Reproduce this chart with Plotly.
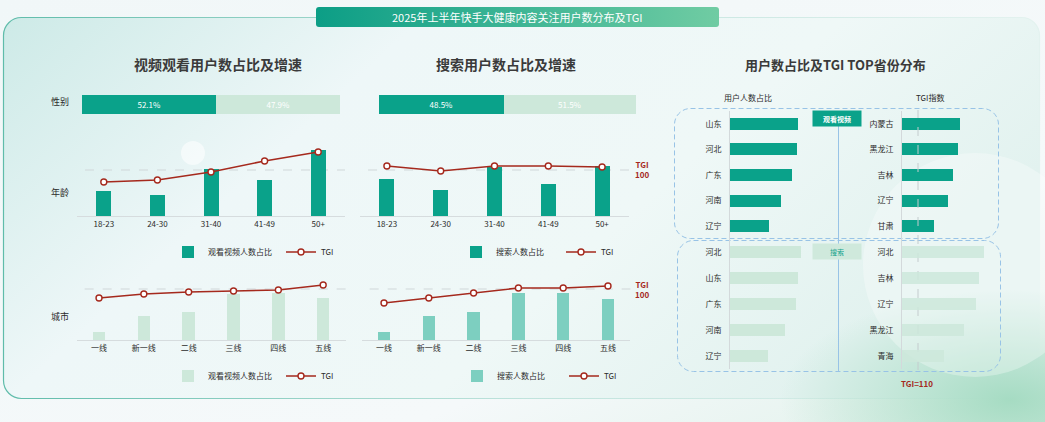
import base64
import plotly.graph_objects as go

W, H = 1045, 422
FONT = "Noto Sans CJK SC, Noto Sans, sans-serif"

# ---------------- data ----------------
video_gender = [52.1, 47.9]
search_gender = [48.5, 51.5]

age_groups = ["18-23", "24-30", "31-40", "41-49", "50+"]
video_age_share = [12.8, 10.8, 24.1, 18.5, 33.8]
video_age_tgi = [88, 90, 98, 109, 118]
search_age_share = [19.1, 13.4, 25.3, 16.5, 25.8]
search_age_tgi = [104, 99, 104, 104, 103]

city_tiers = ["一线", "新一线", "二线", "三线", "四线", "五线"]
video_city_share = [4.1, 12.3, 14.4, 23.6, 24.1, 21.5]
video_city_tgi = [91, 95, 97, 98, 99, 104]
search_city_share = [4.1, 12.3, 14.4, 24.1, 24.1, 21.0]
search_city_tgi = [86, 91, 96, 101, 101, 103]

video_share_prov = ["山东", "河北", "广东", "河南", "辽宁"]
video_share_top = [8.5, 8.4, 7.8, 6.4, 4.9]
video_tgi_prov = ["内蒙古", "黑龙江", "吉林", "辽宁", "甘肃"]
video_tgi_top = [136, 135, 132, 129, 120]
search_share_prov = ["河北", "山东", "广东", "河南", "辽宁"]
search_share_top = [8.9, 8.5, 8.3, 6.9, 4.8]
search_tgi_prov = ["河北", "吉林", "辽宁", "黑龙江", "青海"]
search_tgi_top = [151, 148, 146, 139, 126]

TGI_REF = 100
TGI_PROV_REF = 110

# ---------------- colours ----------------
DARK = "#0aa28a"
LIGHT = "#cde8da"
MID = "#7dcfc0"
RED = "#a5291d"
TXT = "#2b2b2b"


def dx(a, b):
    return [a / W, b / W]


def dy(top, bottom):
    return [1 - bottom / H, 1 - top / H]


def px(x):
    return x / W


def py(y):
    return 1 - y / H


fig = go.Figure()

# ---- gender bars ----
for xa, ya, vals in (("x", "y", video_gender), ("x4", "y6", search_gender)):
    for v, c in zip(vals, [DARK, LIGHT]):
        fig.add_trace(go.Bar(
            x=[v], y=[0], orientation="h", xaxis=xa, yaxis=ya, width=1,
            marker=dict(color=c, line=dict(width=0)), showlegend=False,
            texttemplate="%{x:.1f}%", textposition="inside", insidetextanchor="middle",
            textfont=dict(color="white", size=8, family=FONT), hoverinfo="skip"))


def combo(xa, ya, ya2, cats, share, tgi, color, name, legend):
    fig.add_trace(go.Bar(
        x=cats, y=share, xaxis=xa, yaxis=ya, name=name, width=0.28,
        marker=dict(color=color, line=dict(width=0)), legend=legend))
    fig.add_trace(go.Scatter(
        x=cats, y=tgi, xaxis=xa, yaxis=ya2, name="TGI", mode="lines+markers",
        line=dict(color=RED, width=1.6),
        marker=dict(symbol="circle", size=6, color="white", line=dict(color=RED, width=1.4)),
        legend=legend))


combo("x2", "y2", "y3", age_groups, video_age_share, video_age_tgi, DARK, "观看视频人数占比", "legend")
combo("x3", "y4", "y5", city_tiers, video_city_share, video_city_tgi, LIGHT, "观看视频人数占比", "legend2")
combo("x5", "y7", "y8", age_groups, search_age_share, search_age_tgi, DARK, "搜索人数占比", "legend3")
combo("x6", "y9", "y10", city_tiers, search_city_share, search_city_tgi, MID, "搜索人数占比", "legend4")

# ---- province bars ----
for xa, ya, provs, vals, c in (
        ("x7", "y11", video_share_prov, video_share_top, DARK),
        ("x8", "y12", video_tgi_prov, video_tgi_top, DARK),
        ("x9", "y13", search_share_prov, search_share_top, LIGHT),
        ("x10", "y14", search_tgi_prov, search_tgi_top, "rgba(205,232,218,0.85)")):
    fig.add_trace(go.Bar(
        x=vals, y=provs, orientation="h", xaxis=xa, yaxis=ya, width=0.47,
        marker=dict(color=c, line=dict(width=0)), showlegend=False))

# ---- TGI = 110 reference line (data-positioned on the TGI axis) ----
fig.add_trace(go.Scatter(
    x=[TGI_PROV_REF, TGI_PROV_REF], y=[0, 1], xaxis="x8", yaxis="y15", mode="lines",
    line=dict(color="#c4ccce", width=1, dash="dash"), showlegend=False, hoverinfo="skip"))

# ---------------- axes ----------------
hidden = dict(visible=False, showgrid=False, zeroline=False, fixedrange=True)
cat_x = dict(type="category", showgrid=False, zeroline=False, showline=True,
             linecolor="#d6dcde", linewidth=1, ticks="",
             tickfont=dict(size=8, color=TXT, family=FONT), fixedrange=True)
prov_y = dict(type="category", showgrid=False, zeroline=False, showline=True,
              linecolor="#d3d9db", linewidth=1, ticks="outside", ticklen=6,
              tickcolor="rgba(0,0,0,0)", tickfont=dict(size=8, color=TXT, family=FONT),
              fixedrange=True, range=[4.5, -0.5])

layout = dict(
    width=W, height=H, autosize=False,
    margin=dict(l=0, r=0, t=0, b=0, pad=0),
    paper_bgcolor="rgba(0,0,0,0)", plot_bgcolor="rgba(0,0,0,0)",
    barmode="stack", font=dict(family=FONT, color=TXT),
    hovermode=False,
    # gender video
    xaxis=dict(hidden, domain=dx(82, 340), range=[0, 100], anchor="y"),
    yaxis=dict(hidden, domain=dy(95, 114), range=[-0.5, 0.5], anchor="x"),
    # age video
    xaxis2=dict(cat_x, domain=dx(77, 345), range=[-0.5, 4.5], anchor="y2"),
    yaxis2=dict(hidden, domain=dy(138, 216), range=[0, 40], anchor="x2"),
    yaxis3=dict(hidden, overlaying="y2", range=[54, 132], anchor="x2"),
    # city video
    xaxis3=dict(cat_x, domain=dx(76.6, 345.6), range=[-0.5, 5.5], anchor="y4"),
    yaxis4=dict(hidden, domain=dy(262, 340), range=[0, 40], anchor="x3"),
    yaxis5=dict(hidden, overlaying="y4", range=[49, 127], anchor="x3"),
    # gender search
    xaxis4=dict(hidden, domain=dx(379, 636), range=[0, 100], anchor="y6"),
    yaxis6=dict(hidden, domain=dy(95, 114), range=[-0.5, 0.5], anchor="x4"),
    # age search
    xaxis5=dict(cat_x, domain=dx(360, 629), range=[-0.5, 4.5], anchor="y7"),
    yaxis7=dict(hidden, domain=dy(138, 216), range=[0, 40], anchor="x5"),
    yaxis8=dict(hidden, overlaying="y7", range=[54, 132], anchor="x5"),
    # city search
    xaxis6=dict(cat_x, domain=dx(361.6, 630.4), range=[-0.5, 5.5], anchor="y9"),
    yaxis9=dict(hidden, domain=dy(262, 340), range=[0, 40], anchor="x6"),
    yaxis10=dict(hidden, overlaying="y9", range=[49, 127], anchor="x6"),
    # provinces
    xaxis7=dict(hidden, domain=dx(730, 834), range=[0, 13], anchor="y11"),
    yaxis11=dict(prov_y, domain=dy(111, 239), anchor="x7"),
    xaxis8=dict(hidden, domain=dx(902, 1000), range=[100, 161.25], anchor="y12"),
    yaxis12=dict(prov_y, domain=dy(111, 239), anchor="x8"),
    xaxis9=dict(hidden, domain=dx(730, 834), range=[0, 13], anchor="y13"),
    yaxis13=dict(prov_y, domain=dy(239, 369), anchor="x9"),
    xaxis10=dict(hidden, domain=dx(902, 1000), range=[100, 161.25], anchor="y14"),
    yaxis14=dict(prov_y, domain=dy(239, 369), anchor="x10"),
    yaxis15=dict(hidden, domain=dy(110, 370), range=[0, 1], anchor="x8"),
)


def leg(x, y, ew):
    return dict(orientation="h", x=px(x), y=py(y), xanchor="left", yanchor="middle",
                font=dict(size=8, color=TXT, family=FONT), bgcolor="rgba(0,0,0,0)",
                entrywidth=ew, entrywidthmode="pixels", borderwidth=0,
                traceorder="normal")


layout["legend"] = leg(168, 252, 68)
layout["legend2"] = leg(168, 376, 68)
layout["legend3"] = leg(456, 252, 60)
layout["legend4"] = leg(457, 376, 62)

fig.update_layout(**layout)

# ---------------- reference lines ----------------
shapes = []
for xr, yr in (("x2", "y3"), ("x3", "y5"), ("x5", "y8"), ("x6", "y10")):
    shapes.append(dict(type="line", xref=xr + " domain", yref=yr, x0=0.03, x1=1,
                       y0=TGI_REF, y1=TGI_REF, line=dict(color="#d0d7d9", width=1, dash="dash"),
                       layer="below"))
fig.update_layout(shapes=shapes)

# ---------------- texts ----------------
ann = []


def text(x, y, s, size=9, color=TXT, **kw):
    d = dict(xref="paper", yref="paper", x=px(x), y=py(y), text=s, showarrow=False,
             xanchor="center", yanchor="middle", font=dict(size=size, color=color, family=FONT))
    d.update(kw)
    ann.append(d)


text(517, 17, "2025年上半年快手大健康内容关注用户数分布及TGI", 11, "white")
text(218, 64, "<b>视频观看用户数占比及增速</b>", 14, "#3a3a3a")
text(506, 64, "<b>搜索用户数占比及增速</b>", 14, "#3a3a3a")
text(835, 64, "<b>用户数占比及TGI TOP省份分布</b>", 13, "#3a3a3a")
text(60, 102, "性别", 9)
text(60, 192, "年龄", 9)
text(60, 316, "城市", 9)
text(642, 169, "<b>TGI<br>100</b>", 8, RED)
text(642, 289, "<b>TGI<br>100</b>", 8, RED)
text(748, 97, "用户人数占比", 8)
text(930, 97, "TGI指数", 8)
text(837, 118.5, "<b>观看视频</b>", 7, "white", bgcolor=DARK, width=46, height=13)
text(837, 251.5, "搜索", 7, "#14a38b", bgcolor="#cfe9dc", width=46, height=13)
text(917, 383, "<b>TGI=110</b>", 8, RED)
fig.update_layout(annotations=ann)

# ---------------- background ----------------
svg = f"""<svg xmlns='http://www.w3.org/2000/svg' width='{W}' height='{H}' viewBox='0 0 {W} {H}'>
<defs>
<linearGradient id='bg' x1='0' y1='0' x2='1' y2='1'>
<stop offset='0' stop-color='#f1f7f8'/><stop offset='0.7' stop-color='#f5f9fa'/><stop offset='1' stop-color='#e0f1ea'/>
</linearGradient>
<linearGradient id='pn' x1='0' y1='0' x2='1' y2='0.4'>
<stop offset='0' stop-color='#cdeae7'/><stop offset='0.35' stop-color='#eef7f8'/><stop offset='0.7' stop-color='#eff8f7'/><stop offset='1' stop-color='#e2f2ef'/>
</linearGradient>
<linearGradient id='bd' x1='0' y1='0' x2='1' y2='0'>
<stop offset='0' stop-color='#5fbcaa'/><stop offset='0.5' stop-color='#bfe3dc'/><stop offset='1' stop-color='#e3f2ef'/>
</linearGradient>
<linearGradient id='bn' x1='0' y1='0' x2='1' y2='0'>
<stop offset='0' stop-color='#0c9e86'/><stop offset='1' stop-color='#70cca3'/>
</linearGradient>
<radialGradient id='gl' cx='0.5' cy='0.5' r='0.5'>
<stop offset='0' stop-color='#9fd9be' stop-opacity='0.9'/><stop offset='1' stop-color='#9fd9be' stop-opacity='0'/>
</radialGradient>
</defs>
<rect width='{W}' height='{H}' fill='url(#bg)'/>
<rect x='3.5' y='17.5' width='1036' height='381' rx='18' fill='url(#pn)' stroke='url(#bd)' stroke-width='1.2'/>
<ellipse cx='1010' cy='400' rx='230' ry='110' fill='url(#gl)'/>
<circle cx='975' cy='265' r='112' fill='#ffffff' fill-opacity='0.3'/>
<circle cx='193' cy='153' r='12' fill='#ffffff' fill-opacity='0.55'/>
<rect x='316' y='7' width='403' height='20' rx='3' fill='url(#bn)'/>
<g fill='none' stroke='#98c3e6' stroke-width='1' stroke-dasharray='5,3'>
<rect x='674.5' y='108.5' width='324' height='130' rx='16'/>
<rect x='677.5' y='240.5' width='323' height='131' rx='16'/>
</g>
<line x1='838.5' y1='126' x2='838.5' y2='372' stroke='#98c3e6' stroke-width='1'/>
</svg>"""
src = "data:image/svg+xml;base64," + base64.b64encode(svg.encode("utf-8")).decode("ascii")
fig.update_layout(images=[dict(source=src, xref="paper", yref="paper", x=0, y=1, sizex=1, sizey=1,
                               xanchor="left", yanchor="top", sizing="stretch", layer="below")])

fig.write_html("out.html", config={"displayModeBar": False})
